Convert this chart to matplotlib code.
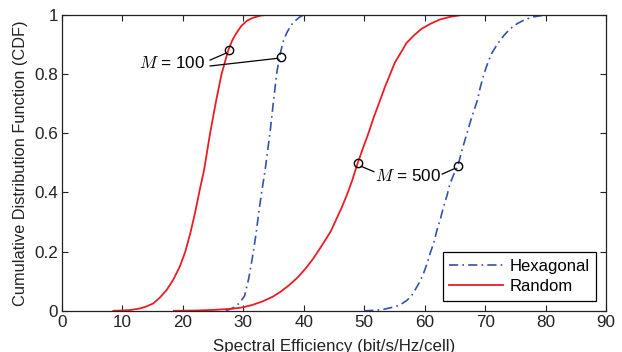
import numpy as np
import matplotlib.pyplot as plt

plt.rcParams['font.family'] = ['Liberation Sans', 'DejaVu Sans']
plt.rcParams['mathtext.fontset'] = 'cm'

# Random, M = 100
rand100_x = [8.5, 11, 12.0, 12.9, 14, 15.1, 16.2, 17.3, 18.4, 19.5, 20.4, 21.2, 22.0, 22.8, 23.5,
             24.5, 25.5, 26.4, 27.5, 28.2, 28.9, 29.7, 30.6, 31.6, 32.8, 34.0, 36.7]
rand100_y = [0, 0.002, 0.005, 0.008, 0.015, 0.025, 0.045, 0.07, 0.105, 0.15, 0.2, 0.26, 0.33, 0.41,
             0.475, 0.6, 0.71, 0.8, 0.88, 0.915, 0.94, 0.963, 0.98, 0.99, 0.997, 1.0, 1.0]
# Hexagonal, M = 100
hex100_x = [27.1, 28.3, 29.3, 30.2, 30.9, 31.5, 32.1, 32.6, 33.1, 33.6, 34.4, 35.0, 35.5, 36.0,
            36.6, 37.2, 37.9, 38.6, 39.3, 40.0, 42.0]
hex100_y = [0, 0.01, 0.025, 0.05, 0.11, 0.18, 0.26, 0.34, 0.41, 0.475, 0.6, 0.71, 0.8, 0.86,
            0.91, 0.94, 0.965, 0.98, 0.992, 1.0, 1.0]
# Random, M = 500
rand500_x = [18.5, 22, 25, 28.2, 30, 31.5, 33.2, 34.8, 36.2, 37.6, 39, 40.3, 41.4, 42.5, 43.5,
             44.5, 45.4, 46.3, 47.2, 48.0, 48.9, 49.8, 50.7, 51.6, 52.6, 53.4, 54.3, 55.1,
             56.0, 57.0, 58.2, 59.5, 61.0, 62.5, 64.2, 66.0, 67.0, 76.4]
rand500_y = [0, 0.001, 0.003, 0.007, 0.012, 0.02, 0.032, 0.047, 0.065, 0.087, 0.113, 0.143, 0.172,
             0.205, 0.237, 0.27, 0.31, 0.35, 0.395, 0.44, 0.498, 0.55, 0.6, 0.655, 0.71, 0.755,
             0.8, 0.84, 0.87, 0.905, 0.93, 0.953, 0.97, 0.984, 0.993, 0.999, 1.0, 1.0]
# Hexagonal, M = 500
hex500_x = [50.0, 52.0, 53.2, 54.3, 55.4, 56.3, 57.1, 57.8, 58.4, 59.1, 59.8, 60.4, 60.9, 61.5,
            62.0, 62.6, 63.1, 63.7, 64.2, 64.9, 65.5, 66.2, 67.0, 67.8, 68.7, 69.2, 69.8, 70.4,
            71.1, 72.0, 73.1, 74.1, 75.3, 76.6, 78.0, 79.5, 81.0, 85.8]
hex500_y = [0, 0.002, 0.005, 0.01, 0.016, 0.025, 0.036, 0.05, 0.07, 0.095, 0.126, 0.16, 0.194,
            0.23, 0.27, 0.31, 0.35, 0.39, 0.43, 0.465, 0.49, 0.545, 0.6, 0.655, 0.71, 0.755, 0.8,
            0.835, 0.87, 0.9, 0.93, 0.952, 0.97, 0.984, 0.993, 0.998, 1.0, 1.0]

# marked points
m100_pts = [(27.6, 0.881), (36.3, 0.856)]
m500_pts = [(48.9, 0.498), (65.5, 0.49)]

red = '#ec1c24'
blue = '#3552a8'

fig = plt.figure(figsize=(6.22, 3.52), dpi=100)
ax = fig.add_axes([0.0997, 0.117, 0.9743 - 0.0997, 0.958 - 0.117])

hexstyle = (0, (5.5, 2.5, 1, 2.5))
ax.plot(hex100_x, hex100_y, color=blue, lw=1.2, ls=hexstyle, label='Hexagonal')
ax.plot(rand100_x, rand100_y, color=red, lw=1.3, label='Random')
ax.plot(hex500_x, hex500_y, color=blue, lw=1.2, ls=hexstyle)
ax.plot(rand500_x, rand500_y, color=red, lw=1.3)

for px, py in m100_pts + m500_pts:
    ax.plot(px, py, 'o', mfc='none', mec='black', ms=6, mew=1.0)

# M = 100 label and leader lines
ax.text(23.7, 0.838, r'$M$ = 100', fontsize=12.3, ha='right', va='center')
ax.plot([24.5, m100_pts[0][0] - 0.4], [0.847, m100_pts[0][1] - 0.01], color='black', lw=0.9)
ax.plot([24.5, m100_pts[1][0] - 0.6], [0.827, m100_pts[1][1] - 0.003], color='black', lw=0.9)

# M = 500 label and leader lines
ax.text(57.3, 0.457, r'$M$ = 500', fontsize=12.3, ha='center', va='center')
ax.plot([m500_pts[0][0] + 0.6, 51.6], [m500_pts[0][1] - 0.01, 0.47], color='black', lw=0.9)
ax.plot([62.9, m500_pts[1][0] - 0.6], [0.462, m500_pts[1][1] - 0.01], color='black', lw=0.9)

ax.set_xlim(0, 90)
ax.set_ylim(0, 1)
ax.set_xticks(range(0, 91, 10))
ax.set_yticks([0, 0.2, 0.4, 0.6, 0.8, 1.0])
ax.set_yticklabels(['0', '0.2', '0.4', '0.6', '0.8', '1'])
ax.tick_params(direction='in', length=4, width=0.8, top=True, right=True,
               labelsize=12.3, pad=3, colors='#222222')
for s in ax.spines.values():
    s.set_linewidth(0.9)
    s.set_color('#222222')

ax.set_xlabel('Spectral Efficiency (bit/s/Hz/cell)', fontsize=12.2, color='#222222')
ax.set_ylabel('Cumulative Distribution Function (CDF)', fontsize=11.8, color='#222222')
ax.xaxis.set_label_coords(0.5, -0.095)
ax.yaxis.set_label_coords(-0.063, 0.5)

leg = ax.legend(loc='lower right', fontsize=12, handlelength=3.2, handletextpad=0.4,
                fancybox=False, edgecolor='black', framealpha=1, borderaxespad=0.6,
                labelspacing=0.32, borderpad=0.4)
leg.get_frame().set_linewidth(0.9)

fig.savefig('out.png', dpi=100)
